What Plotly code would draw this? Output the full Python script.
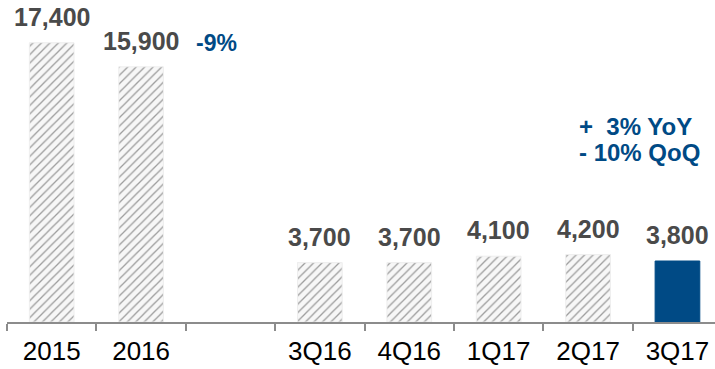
import plotly.graph_objects as go

# Period labels (blank slot separates annual totals from quarterly figures)
categories = ["2015", "2016", " ", "3Q16", "4Q16", "1Q17", "2Q17", "3Q17"]
values = [17400, 15900, None, 3700, 3700, 4100, 4200, 3800]
value_labels = ["17,400", "15,900", "", "3,700", "3,700", "4,100", "4,200", "3,800"]
highlight = "3Q17"
annual_change = "-9%"
callout_lines = ["+  3% YoY", "- 10% QoQ"]

NAVY = "#004A85"
FONT = "Liberation Sans, Arial, sans-serif"

fills = [NAVY if c == highlight else "#f7f7f7" for c in categories]
shapes = ["" if c == highlight else "/" for c in categories]
edges = [NAVY if c == highlight else "#eeeeee" for c in categories]

fig = go.Figure()
fig.add_trace(go.Bar(
    x=categories,
    y=values,
    width=0.5,
    marker=dict(
        color=fills,
        line=dict(color=edges, width=1),
        pattern=dict(shape=shapes, fgcolor="#bdbdbd", size=6,
                     solidity=0.22, fillmode="overlay"),
    ),
    hoverinfo="skip",
))

# Value labels above each bar (positioned by category index, since some
# category names look numeric)
for i, (v, t) in enumerate(zip(values, value_labels)):
    if v is None:
        continue
    fig.add_annotation(x=i, y=v, text=f"<b>{t}</b>", showarrow=False,
                       xanchor="center", yanchor="bottom", yshift=10,
                       font=dict(family=FONT, size=25, color="#4a4a4a"))

# Year-over-year change between the annual totals
fig.add_annotation(x=1.84, y=17380, text=f"<b>{annual_change}</b>", showarrow=False,
                   xanchor="center", yanchor="middle",
                   font=dict(family=FONT, size=23, color=NAVY))

# Change callout for the latest quarter
for line, ypos in zip(callout_lines, [12200, 10580]):
    fig.add_annotation(x=5.877, y=ypos, text=f"<b>{line}</b>",
                       showarrow=False, xanchor="left", yanchor="middle", align="left",
                       font=dict(family=FONT, size=24, color=NAVY))

fig.update_layout(
    width=715, height=369,
    margin=dict(l=7, r=0, t=1, b=47),
    paper_bgcolor="white", plot_bgcolor="white",
    showlegend=False,
    xaxis=dict(
        type="category",
        range=[-0.5, 7.42],
        showline=True, linecolor="#8c8c8c", linewidth=1.5,
        ticks="outside", tickson="boundaries", ticklen=7,
        tickcolor="#8c8c8c", tickwidth=1.5,
        ticklabelstandoff=5,
        tickfont=dict(family=FONT, size=26, color="#000000"),
        showgrid=False, zeroline=False,
    ),
    yaxis=dict(range=[0, 20000], visible=False, showgrid=False, zeroline=False),
)

fig.write_html("out.html")
